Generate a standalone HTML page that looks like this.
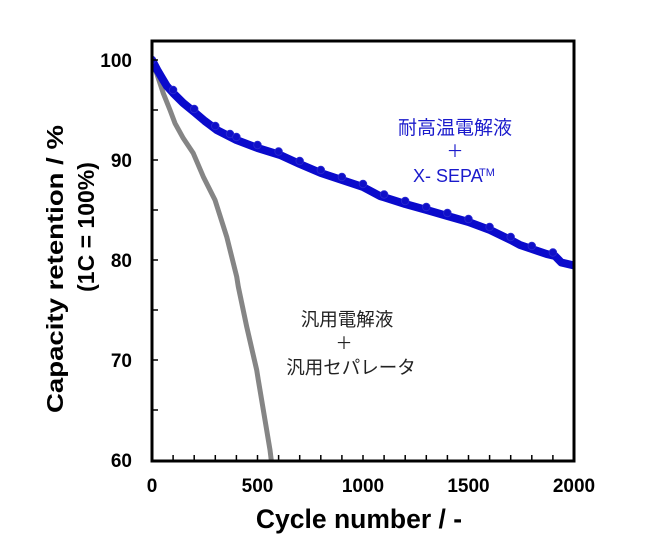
<!DOCTYPE html>
<html><head><meta charset="utf-8"><style>
html,body{margin:0;padding:0;background:#fff;}
svg{display:block;}
</style></head><body>
<svg width="650" height="550" viewBox="0 0 650 550" xmlns="http://www.w3.org/2000/svg">
<rect width="650" height="550" fill="#fff"/>
<defs><clipPath id="pc"><rect x="152" y="41" width="422" height="419"/></clipPath></defs>
<g clip-path="url(#pc)">
<polyline fill="none" stroke="#858585" stroke-width="5" stroke-linejoin="round" stroke-linecap="round"
points="152,61 156.7,73.3 163.3,93.3 170,110 175,123.3 183.3,138.3 193.3,153.3 203.3,176.7 215,200 226.7,236.7 236.7,276.7 238.3,286.7 246.7,326.7 256.7,370 258.3,380 265,420 270,450 272,466"/>
<polyline fill="none" stroke="#0a0acc" stroke-width="8" stroke-linejoin="round" stroke-linecap="round"
points="152,60 157.3,70 162.6,79 166.8,86 173.1,93 183.2,103 194.2,112 204.8,121 216.8,130 236.4,140 257.5,148 280.1,155 299.7,164 320.8,173 341.9,180 363,187 379.9,196 405.2,204 426.7,210 447.4,216 468.5,222 490,230 510.7,240 520,245 531.8,249 546.6,254 555,256 561.3,262.5 574,265.5"/>
<g fill="#0f0fc8" stroke="#2a2ad0" stroke-width="0.8">
<circle cx="152" cy="60" r="3.8"/>
<circle cx="173.1" cy="90" r="3.8"/>
<circle cx="194.2" cy="109" r="3.8"/>
<circle cx="215.3" cy="126" r="3.8"/>
<circle cx="230" cy="134" r="3.8"/>
<circle cx="236.4" cy="137" r="3.8"/>
<circle cx="257.5" cy="145" r="3.8"/>
<circle cx="278.6" cy="151.5" r="3.8"/>
<circle cx="299.7" cy="161" r="3.8"/>
<circle cx="320.8" cy="170" r="3.8"/>
<circle cx="341.9" cy="177" r="3.8"/>
<circle cx="363" cy="184" r="3.8"/>
<circle cx="384.1" cy="194.5" r="3.8"/>
<circle cx="405.2" cy="201" r="3.8"/>
<circle cx="426.3" cy="207" r="3.8"/>
<circle cx="447.4" cy="213" r="3.8"/>
<circle cx="468.5" cy="219" r="3.8"/>
<circle cx="489.6" cy="227" r="3.8"/>
<circle cx="510.7" cy="237" r="3.8"/>
<circle cx="531.8" cy="246" r="3.8"/>
<circle cx="552.9" cy="252.5" r="3.8"/>
</g>
</g>
<rect x="152" y="41" width="422" height="420" fill="none" stroke="#000" stroke-width="3"/>
<g stroke="#000" stroke-width="1.5">
<line x1="173.1" y1="461" x2="173.1" y2="455"/>
<line x1="194.2" y1="461" x2="194.2" y2="455"/>
<line x1="215.3" y1="461" x2="215.3" y2="455"/>
<line x1="236.4" y1="461" x2="236.4" y2="455"/>
<line x1="257.5" y1="461" x2="257.5" y2="455"/>
<line x1="278.6" y1="461" x2="278.6" y2="455"/>
<line x1="299.7" y1="461" x2="299.7" y2="455"/>
<line x1="320.8" y1="461" x2="320.8" y2="455"/>
<line x1="341.9" y1="461" x2="341.9" y2="455"/>
<line x1="363" y1="461" x2="363" y2="455"/>
<line x1="384.1" y1="461" x2="384.1" y2="455"/>
<line x1="405.2" y1="461" x2="405.2" y2="455"/>
<line x1="426.3" y1="461" x2="426.3" y2="455"/>
<line x1="447.4" y1="461" x2="447.4" y2="455"/>
<line x1="468.5" y1="461" x2="468.5" y2="455"/>
<line x1="489.6" y1="461" x2="489.6" y2="455"/>
<line x1="510.7" y1="461" x2="510.7" y2="455"/>
<line x1="531.8" y1="461" x2="531.8" y2="455"/>
<line x1="552.9" y1="461" x2="552.9" y2="455"/>
<line x1="152" y1="410" x2="158" y2="410"/>
<line x1="152" y1="360" x2="158" y2="360"/>
<line x1="152" y1="310" x2="158" y2="310"/>
<line x1="152" y1="260" x2="158" y2="260"/>
<line x1="152" y1="210" x2="158" y2="210"/>
<line x1="152" y1="160" x2="158" y2="160"/>
<line x1="152" y1="110" x2="158" y2="110"/>
<line x1="152" y1="60" x2="158" y2="60"/>
</g>
<g font-family="Liberation Sans, Arial, sans-serif" font-weight="bold" font-size="19" fill="#000">
<text x="132" y="67" text-anchor="end">100</text>
<text x="132" y="167" text-anchor="end">90</text>
<text x="132" y="267" text-anchor="end">80</text>
<text x="132" y="367" text-anchor="end">70</text>
<text x="132" y="467" text-anchor="end">60</text>
<text x="152" y="492" text-anchor="middle">0</text>
<text x="257.5" y="492" text-anchor="middle">500</text>
<text x="363" y="492" text-anchor="middle">1000</text>
<text x="468.5" y="492" text-anchor="middle">1500</text>
<text x="574" y="492" text-anchor="middle">2000</text>
</g>
<g font-family="Liberation Sans, Arial, sans-serif" font-weight="bold" fill="#000">
<text x="359" y="528" text-anchor="middle" font-size="26.5">Cycle number / -</text>
<text transform="translate(63,269) rotate(-90)" text-anchor="middle" font-size="23" textLength="288" lengthAdjust="spacingAndGlyphs">Capacity retention / %</text>
<text transform="translate(94,227) rotate(-90)" text-anchor="middle" font-size="23">(1C = 100%)</text>
</g>
<g fill="#1a1acc">
<text x="455" y="134" text-anchor="middle" font-size="19" font-family="'Noto Sans CJK JP', sans-serif">耐高温電解液</text>
<text x="455" y="157" text-anchor="middle" font-size="17" font-family="'Noto Sans CJK JP', sans-serif">＋</text>
<text x="413" y="182" font-size="18" font-family="Liberation Sans, sans-serif">X- SEPA</text>
<text x="479" y="176" font-size="11" font-family="Liberation Sans, sans-serif">TM</text>
</g>
<g fill="#222">
<text x="347" y="326" text-anchor="middle" font-size="18.5" font-family="'Noto Sans CJK JP', sans-serif">汎用電解液</text>
<text x="344" y="349" text-anchor="middle" font-size="17" font-family="'Noto Sans CJK JP', sans-serif">＋</text>
<text x="351" y="374" text-anchor="middle" font-size="18.5" font-family="'Noto Sans CJK JP', sans-serif">汎用セパレータ</text>
</g>
</svg>
</body></html>
